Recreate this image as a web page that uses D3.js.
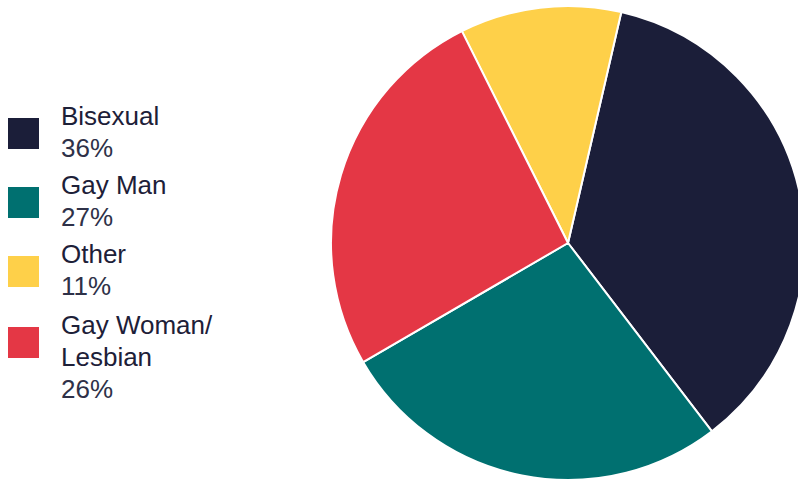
<!DOCTYPE html>
<html>
<head>
<meta charset="utf-8">
<script src="https://cdn.jsdelivr.net/npm/d3@7/dist/d3.min.js"></script>
<style>
  html, body { margin: 0; padding: 0; background: #ffffff; }
  svg { display: block; font-family: "Liberation Sans", Arial, Helvetica, sans-serif; }
</style>
</head>
<body>
<svg id="chart" width="798" height="482"></svg>
<script>
// Respondent sexual orientation, share of total (%)
const categories = ["Bisexual", "Gay Man", "Other", "Gay Woman/\nLesbian"];
const shares = [36, 27, 11, 26];
const colors = ["#1b1e39", "#007070", "#fed049", "#e43745"];
// clockwise drawing order of the slices
const sliceOrder = ["Bisexual", "Gay Man", "Gay Woman/\nLesbian", "Other"];

const svg = d3.select("#chart");
const W = 798, H = 482;
const cx = 568, cy = 243, radius = 237;

const color = d3.scaleOrdinal().domain(categories).range(colors);

const data = categories.map((c, i) => ({ name: c, value: shares[i] }));

const pie = d3.pie()
  .value(d => d.value)
  .sort((a, b) => sliceOrder.indexOf(a.name) - sliceOrder.indexOf(b.name))
  .startAngle(13 * Math.PI / 180)
  .endAngle(13 * Math.PI / 180 + 2 * Math.PI);

const arc = d3.arc().innerRadius(0).outerRadius(radius);

svg.append("g")
  .attr("transform", `translate(${cx},${cy})`)
  .selectAll("path")
  .data(pie(data))
  .join("path")
  .attr("d", arc)
  .attr("fill", d => color(d.data.name))
  .attr("stroke", "#ffffff")
  .attr("stroke-width", 2)
  .attr("stroke-linejoin", "round");

// Legend: swatch, label line(s), percentage
const legend = svg.append("g");
const itemTops = [118, 187, 256, 327];
const lineH = 32;

data.forEach((d, i) => {
  const g = legend.append("g").attr("transform", `translate(0,${itemTops[i]})`);
  g.append("rect")
    .attr("x", 8).attr("y", 0)
    .attr("width", 31).attr("height", 31)
    .attr("fill", color(d.name));
  const lines = d.name.split("\n");
  lines.forEach((ln, j) => {
    g.append("text")
      .attr("x", 61)
      .attr("y", 7 + j * lineH)
      .attr("font-size", 26)
      .attr("fill", "#1d2038")
      .text(ln);
  });
  g.append("text")
    .attr("x", 61)
    .attr("y", 7 + lines.length * lineH)
    .attr("font-size", 26)
    .attr("fill", "#2e3148")
    .text(d.value + "%");
});
</script>
</body>
</html>
